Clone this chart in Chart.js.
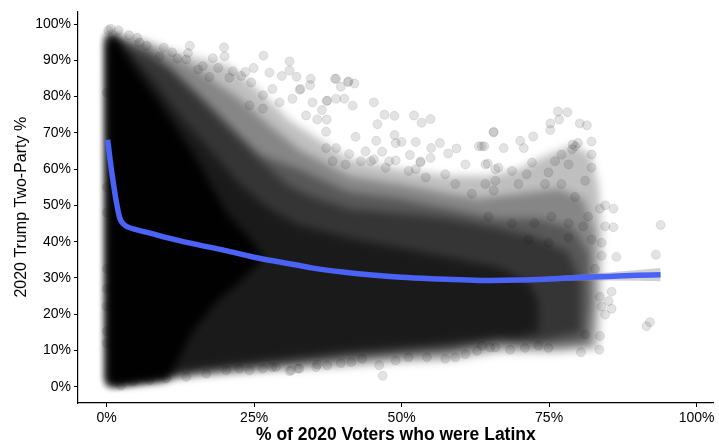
<!DOCTYPE html>
<html>
<head>
<meta charset="utf-8">
<script src="https://cdn.jsdelivr.net/npm/chart.js@4/dist/chart.umd.min.js"></script>
<style>
  html,body{margin:0;padding:0;background:#fff;}
  #wrap{width:719px;height:447px;}
</style>
</head>
<body>
<div id="wrap"><canvas id="chart" width="719" height="447"></canvas></div>
<script>
// Axis ticks
const xTicks = [0, 25, 50, 75, 100];
const yTicks = [0, 10, 20, 30, 40, 50, 60, 70, 80, 90, 100];

// Smoothed trend
const trendX = [0.17, 0.84, 1.3, 1.7, 2.25, 2.9, 3.65, 5, 7.5, 10, 12.5, 15, 20, 25, 30, 32.7, 35, 40, 45, 50, 55, 60, 65, 70, 75, 80, 85, 90, 93.9];
const trendY = [68.1, 59.5, 54.5, 50.5, 46.4, 44.8, 44.0, 43.3, 42.3, 41.2, 40.2, 39.3, 37.6, 35.7, 34.2, 33.4, 32.7, 31.6, 30.8, 30.2, 29.8, 29.5, 29.3, 29.4, 29.7, 30.1, 30.4, 30.7, 30.9];

// Confidence band visible at the right end
const bandX = [55, 60, 65, 70, 75, 80, 85, 90, 93.9];
const bandLow = [29.5, 29.15, 28.9, 28.9, 29.05, 29.25, 29.3, 29.25, 29.1];
const bandHigh = [30.1, 29.85, 29.7, 29.9, 30.35, 30.95, 31.5, 32.15, 32.7];

// Density outlines of the point cloud (x %, y %), from the faint edge to the solid core
const densityA = [[0.05,98.1],[3.94,96.5],[7.31,95.1],[11.54,92.4],[15.78,90.5],[20.83,88.4],[25.9,81.6],[30.96,73.5],[36.03,68.1],[41.1,62.7],[49.54,60.0],[57.98,58.1],[64.74,58.1],[69.81,60.0],[74.88,64.0],[79.1,66.7],[81.97,64.0],[83.33,55.9],[84.0,42.4],[83.83,23.5],[83.33,10.5],
  [76.57,9.4],[66.44,9.4],[57.98,7.2],[49.54,6.7],[41.1,5.6],[32.65,4.8],[24.21,4.0],[15.78,2.9],[7.31,1.5],[1.4,0.2],[0.05,0.5]];
const densityB = [[0.05,97.6],[5.63,95.1],[10.71,91.6],[15.78,87.0],[22.52,79.4],[27.59,72.1],[32.65,65.4],[41.1,58.1],[49.54,55.9],[57.98,53.2],[63.07,51.9],[69.81,53.2],[76.57,54.6],[80.79,51.9],[82.82,42.4],[82.82,23.5],[82.31,11.3],
  [76.57,10.5],[66.44,10.7],[57.98,8.6],[49.54,7.8],[41.1,6.7],[32.65,5.6],[24.21,4.5],[15.78,3.4],[7.31,1.8],[1.4,0.5],[0.05,0.7]];
const densityC = [[0.05,97.0],[5.63,92.4],[10.71,87.8],[15.78,80.3],[20.83,72.1],[25.9,64.0],[32.65,60.0],[41.1,53.7],[49.54,51.9],[57.98,49.1],[66.44,46.4],[73.19,46.4],[79.1,43.7],[81.64,37.0],[81.97,23.5],[81.3,12.6],
  [74.88,11.8],[66.44,12.1],[57.98,9.9],[49.54,8.9],[41.1,7.8],[32.65,6.4],[24.21,5.1],[15.78,4.0],[7.31,2.1],[1.4,0.7],[0.05,1.0]];
const densityD = [[0.05,96.5],[3.09,95.1],[7.31,92.4],[10.19,88.4],[15.78,79.4],[21.35,70.2],[25.9,62.7],[30.46,55.9],[34.34,52.7],[41.1,49.1],[49.54,47.8],[57.98,46.4],[66.44,43.7],[73.19,41.0],[78.26,37.0],[80.29,28.9],[80.29,15.3],
  [73.19,12.6],[66.44,13.2],[57.98,11.0],[49.54,9.9],[41.1,8.9],[32.65,7.5],[24.21,6.1],[15.78,4.5],[7.31,2.4],[1.4,0.7],[0.05,1.3]];
const densityE = [[0.05,95.9],[3.94,91.6],[7.31,85.7],[12.38,74.8],[17.47,65.4],[22.52,55.9],[27.59,49.1],[32.65,44.6],[41.1,41.0],[49.54,38.3],[57.98,35.6],[66.44,32.9],[71.5,28.9],[73.19,23.5],[73.19,15.3],
  [69.81,13.7],[66.44,13.7],[57.98,12.1],[49.54,11.0],[41.1,9.9],[32.65,8.3],[24.21,6.7],[15.78,5.1],[7.31,2.6],[0.9,0.7],[0.05,1.8]];
const densityCore = [[0.05,94.9],[0.56,97.3],[1.23,97.3],[2.58,93.8],[4.44,88.4],[8.5,79.4],[12.38,70.0],[15.78,61.3],[20.35,47.8],[24.21,41.0],[26.74,35.6],
  [22.52,28.9],[18.66,23.5],[14.58,15.3],[11.88,6.4],[10.19,1.8],[5.63,1.0],[2.25,0.5],[0.2,0.5]];

// Individual counties visible outside the dense cloud
const loosePoints = [
  [0.7,98.7],[2.0,98.3],[0.3,98.3],[3.8,96.9],[5.2,96.2],[5.6,94.9],[6.8,94.0],[9.7,93.5],[11.1,92.2],[14.1,94.0],[13.8,92.0],[13.5,90.2],[9.0,91.1],[19.9,93.6],[20.0,91.1],[18.0,90.6],[16.3,88.4],[18.9,87.9],[21.4,87.0],[20.8,85.2],[17.4,85.4],[15.5,87.5],[12.0,90.5],
  [26.6,91.3],[31.0,89.7],[31.0,87.2],[23.5,86.8],[24.9,87.9],[27.6,86.6],[32.2,85.5],[34.6,84.9],[38.9,84.9],[41.0,84.2],[42.0,83.6],[39.7,82.7],[34.5,83.2],[29.7,85.7],[26.5,80.4],[32.7,81.9],[37.3,78.8],[38.9,79.4],[40.3,79.4],[41.7,77.5],[45.3,78.4],[47.1,75.0],[48.8,74.7],[52.1,74.8],[53.4,72.8],[54.9,73.8],[45.9,72.4],[37.3,73.7],[36.5,76.3],[42.2,68.9],[45.7,67.8],[48.8,69.4],[50.0,67.5],[52.4,67.5],[56.5,67.2],[59.3,65.7],[57.9,64.3],[55.0,65.8],[51.4,63.9],[53.2,61.8],[60.8,61.3],[57.4,58.6],[54.1,57.7],[52.4,60.0],[49.0,62.4],[47.3,60.4],[45.3,62.7],[43.9,64.9],[41.1,64.2],[38.9,65.8],[37.2,70.3],[35.7,73.7],[33.8,74.8],[28.1,82.1],[29.3,78.4],[31.5,79.4],[34.9,78.4],[26.5,76.7],[24.2,77.6],[22.8,85.7],[24.5,83.9],
  [38.7,84.9],[40.9,84.0],[37.4,78.9],[63.1,66.3],[64.0,66.3],[65.6,70.3],[64.6,61.5],[65.9,60.0],[49.0,67.2],[46.7,64.8],[47.9,62.2],[44.8,62.2],[43.1,62.2],[40.5,61.3],[38.3,62.2],[37.2,65.8],[32.9,82.1],[59.1,55.9],[61.9,53.2],[64.2,55.9],[65.6,54.1],[54.9,63.1],[53.2,62.2],[51.2,59.5],
  [65.6,70.1],[76.5,75.9],[78.1,75.7],[76.7,73.7],[80.2,72.6],[81.4,72.1],[75.2,72.6],[75.2,70.8],[72.3,69.0],[70.1,67.8],[70.7,65.8],[67.3,65.8],[63.6,66.3],[79.4,66.3],[79.9,67.2],[78.9,65.5],[79.0,66.8],[82.2,67.6],[82.2,64.0],[82.2,60.4],[81.1,56.8],[77.1,64.0],[76.0,62.2],[78.3,61.3],[74.9,59.1],[72.1,61.8],[71.2,58.6],[68.7,59.5],[66.4,60.4],[64.2,61.3],[65.9,56.8],[69.8,55.9],[74.3,55.9],[77.1,55.9],[79.4,52.3],[84.5,50.0],[85.9,49.1],[83.6,49.1],[84.5,44.2],[85.9,44.0],[81.6,46.9],[80.8,44.2],[78.3,45.1],[75.4,46.9],[74.9,39.7],[78.3,41.0],[82.2,40.6],[83.9,36.1],[86.4,35.8],[93.1,36.4],[71.5,40.6],[68.7,45.1],[64.7,46.9],[72.5,45.1],
  [85.6,26.2],[85.1,23.6],[85.6,21.5],[83.9,22.1],[83.6,24.8],[84.5,19.9],[91.5,16.7],[92.1,17.8],[83.6,14.0],[83.5,10.2],[80.4,9.5],[74.9,10.7],[73.2,11.3],[70.9,10.7],[68.4,10.2],[65.9,10.8],[63.6,11.3],[81.1,14.4],[82.8,32.5],[83.9,39.7],[93.9,44.6],
  [46.2,5.9],[46.8,3.0],[35.7,6.1],[39.7,6.5],[43.3,7.7],[51.2,8.1],[54.3,8.1],[57.4,7.7],[59.1,8.1],[60.8,9.0],[62.8,9.9],[65.0,10.8],[32.7,5.0],[31.0,4.3],[32.4,5.0],[37.4,5.9],[35.5,5.4],[28.7,5.4],[26.5,5.0],[24.2,4.5],[2.4,0.3],[4.5,1.4],[7.3,1.8],[10.1,2.3],[13.5,2.7],[16.9,3.6],[20.3,4.5],[22.5,5.0],[28.1,5.4],[31.3,4.5],[41.5,6.8],[49.0,7.2],
  [0,81.1],[0,32.5],[0,22.1],[0,15.3],[0,27.0],[0,55.0],[0,48.0],[0,12.0]
];

const pct = v => v + '%';
const asXY = pts => pts.map(([x, y]) => ({x, y}));

function cloudLayer(pts, alpha, order){
  return {
    cloud: true,
    data: asXY(pts), showLine: true, fill: 'shape', tension: 0,
    backgroundColor: 'rgba(0,0,0,' + alpha + ')', borderColor: 'transparent', borderWidth: 0,
    pointRadius: 0, order
  };
}

// soften the density layers so they read as a cloud, not as bands
const blurCloud = {
  id: 'blurCloud',
  beforeDatasetsDraw(chart){ chart.ctx.filter = 'blur(4px)'; },
  beforeDatasetDraw(chart, args){ if (!chart.data.datasets[args.index].cloud) chart.ctx.filter = 'none'; },
  afterDatasetsDraw(chart){ chart.ctx.filter = 'none'; }
};

const font = 'Liberation Sans, Arial, Helvetica, sans-serif';

new Chart(document.getElementById('chart').getContext('2d'), {
  type: 'scatter',
  plugins: [blurCloud],
  data: {
    datasets: [
      // 0 trend line (top)
      { data: trendX.map((x, i) => ({x, y: trendY[i]})), showLine: true, cubicInterpolationMode: 'monotone',
        borderColor: '#4a62f5', borderWidth: 5.5, pointRadius: 0, borderCapStyle: 'butt', borderJoinStyle: 'round', order: 0 },
      // 1 band lower
      { data: bandX.map((x, i) => ({x, y: bandLow[i]})), showLine: true, borderColor: 'transparent', borderWidth: 0, pointRadius: 0, fill: false, order: 1 },
      // 2 band upper, filled down to 1
      { data: bandX.map((x, i) => ({x, y: bandHigh[i]})), showLine: true, borderColor: 'transparent', borderWidth: 0, pointRadius: 0,
        fill: 1, backgroundColor: 'rgba(153,153,153,0.45)', order: 1 },
      // 3 loose points
      { data: asXY(loosePoints), pointRadius: 4.5, pointBackgroundColor: 'rgba(0,0,0,0.11)',
        pointBorderColor: 'rgba(0,0,0,0.12)', pointBorderWidth: 0.8, order: 2 },
      cloudLayer(densityCore, 0.95, 3),
      cloudLayer(densityE, 0.5, 4),
      cloudLayer(densityD, 0.4, 5),
      cloudLayer(densityC, 0.35, 6),
      cloudLayer(densityB, 0.3, 7),
      cloudLayer(densityA, 0.25, 8)
    ]
  },
  options: {
    responsive: false,
    animation: false,
    devicePixelRatio: 1,
    layout: { padding: { left: 0, right: 3, top: 4, bottom: 0 } },
    plugins: { legend: { display: false }, tooltip: { enabled: false } },
    scales: {
      x: {
        type: 'linear', min: -4.85, max: 102.9,
        afterBuildTicks: s => { s.ticks = xTicks.map(v => ({value: v})); },
        afterFit: s => { s.height = 44; },
        ticks: { callback: pct, color: '#000', font: { family: font, size: 14 }, padding: 3, maxRotation: 0 },
        grid: { display: true, drawOnChartArea: false, drawTicks: true, tickLength: 4, color: '#000', lineWidth: 1 },
        border: { display: true, color: '#000', width: 1.2 },
        title: { display: true, text: '% of 2020 Voters who were Latinx', color: '#000',
          font: { family: font, size: 17.5, weight: 'bold' }, padding: { top: 0, bottom: 1 } }
      },
      y: {
        type: 'linear', min: -4.5, max: 103.5,
        afterBuildTicks: s => { s.ticks = yTicks.map(v => ({value: v})); },
        afterFit: s => { s.width = 78; },
        ticks: { callback: pct, color: '#000', font: { family: font, size: 14 }, padding: 3 },
        grid: { display: true, drawOnChartArea: false, drawTicks: true, tickLength: 4, color: '#000', lineWidth: 1 },
        border: { display: true, color: '#000', width: 1.2 },
        title: { display: true, text: '2020 Trump Two-Party %', color: '#000',
          font: { family: font, size: 16 }, padding: { top: 12, bottom: 0 } }
      }
    }
  }
});
</script>
</body>
</html>
